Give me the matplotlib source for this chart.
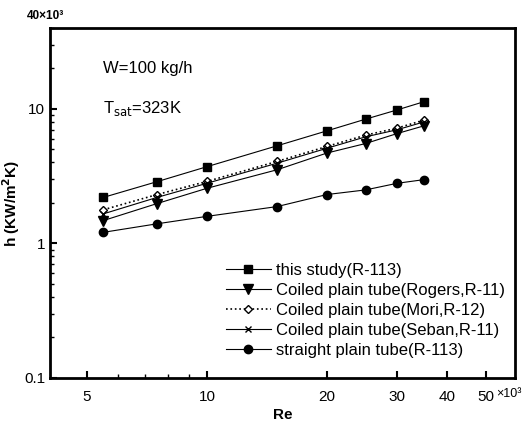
import matplotlib
matplotlib.use("Agg")
import matplotlib.pyplot as plt
from matplotlib.ticker import FixedLocator, NullFormatter, LogLocator
from matplotlib.transforms import blended_transform_factory

plt.rcParams['font.family'] = ['Liberation Sans', 'DejaVu Sans']

re = [5.5, 7.5, 10, 15, 20, 25, 30, 35]
this_study = [2.20, 2.88, 3.72, 5.32, 6.87, 8.39, 9.83, 11.3]
rogers = [1.48, 1.98, 2.57, 3.53, 4.70, 5.53, 6.56, 7.48]
mori = [1.78, 2.31, 2.89, 4.07, 5.26, 6.38, 7.20, 8.25]
seban = [1.66, 2.20, 2.80, 3.95, 5.10, 6.20, 7.00, 8.00]
straight = [1.21, 1.40, 1.59, 1.88, 2.31, 2.50, 2.80, 2.98]

labels = ["this study(R-113)", "Coiled plain tube(Rogers,R-11)",
          "Coiled plain tube(Mori,R-12)", "Coiled plain tube(Seban,R-11)",
          "straight plain tube(R-113)"]

xticks = [5, 10, 20, 30, 40, 50]
xticklabels = ["5", "10", "20", "30", "40", "50"]
yticks = [0.1, 1, 10]
yticklabels = ["0.1", "1", "10"]

fig = plt.figure(figsize=(5.24, 4.23), dpi=100)
ax = fig.add_axes([0.0954, 0.1064, 0.8876, 0.8276])
ax.set_xscale('log')
ax.set_yscale('log')

lw = 0.8
ax.plot(re, this_study, '-', color='black', lw=lw, marker='s', ms=5.5, label=labels[0])
ax.plot(re, rogers, '-', color='black', lw=lw, marker='v', ms=6.5, label=labels[1])
ax.plot(re, mori, ':', color='black', lw=1.2, marker='D', ms=4.5, mfc='white', mec='black', label=labels[2])
ax.plot(re, seban, '-', color='black', lw=lw, marker='x', ms=5, label=labels[3])
ax.plot(re, straight, '-', color='black', lw=lw, marker='o', ms=6, label=labels[4])

ax.set_xlim(4.04, 59.3)
ax.set_ylim(0.1, 40)

ax.xaxis.set_major_locator(FixedLocator(xticks))
ax.set_xticklabels(xticklabels)
ax.xaxis.set_minor_locator(FixedLocator([6, 7, 8, 9]))
ax.xaxis.set_minor_formatter(NullFormatter())
ax.yaxis.set_major_locator(FixedLocator(yticks))
ax.set_yticklabels(yticklabels)
ax.yaxis.set_minor_locator(LogLocator(base=10, subs=range(2, 10)))
ax.yaxis.set_minor_formatter(NullFormatter())

ax.tick_params(which='both', direction='in', labelsize=11, top=False, right=False)
ax.tick_params(axis='x', which='major', pad=9)
ax.tick_params(which='major', length=5, width=1.5)
ax.tick_params(which='minor', length=3, width=1.0)

for s in ax.spines.values():
    s.set_linewidth(2)

trans = blended_transform_factory(ax.transData, ax.transAxes)
ax.text(53.2, -0.046, '×10³', transform=trans, fontsize=9, ha='left', va='center', clip_on=False)

ax.set_xlabel('Re', fontsize=11, fontweight='bold')
ax.xaxis.set_label_coords(0.5, -0.086)
ax.set_ylabel('h (KW/m$^\\mathbf{2}$K)', fontsize=11, fontweight='bold')
ax.yaxis.set_label_coords(-0.06, 0.5)

ax.text(0.115, 0.885, 'W=100 kg/h', transform=ax.transAxes, fontsize=12, va='center')
ax.text(0.115, 0.77, 'T$_{\\mathrm{sat}}$=323K', transform=ax.transAxes, fontsize=12, va='center')
fig.text(0.052, 0.955, '40×10³', fontsize=8.5, fontweight='bold')

ax.legend(loc='lower left', bbox_to_anchor=(0.353, 0.024), frameon=False, fontsize=12,
          handlelength=2.7, handletextpad=0.3, labelspacing=0.3, borderpad=0.2)

fig.savefig('out.png', dpi=100)
